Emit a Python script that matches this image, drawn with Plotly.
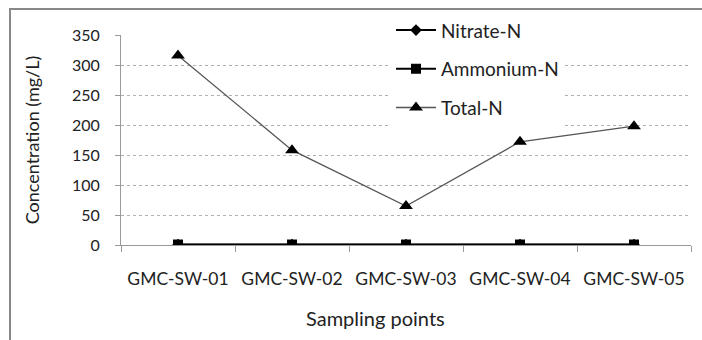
import plotly.graph_objects as go

categories = ["GMC-SW-01", "GMC-SW-02", "GMC-SW-03", "GMC-SW-04", "GMC-SW-05"]
nitrate_n = [0.5, 0.5, 0.5, 0.5, 0.5]
ammonium_n = [0.8, 0.8, 0.8, 0.8, 0.8]
total_n = [316, 158, 65, 172, 198]
y_ticks = [0, 50, 100, 150, 200, 250, 300, 350]

FONT = "Lato"
fig = go.Figure()
fig.add_trace(go.Scatter(x=categories, y=nitrate_n, name="Nitrate-N", mode="lines+markers",
                         line=dict(color="black", width=2), legendgroup="a",
                         marker=dict(symbol="diamond", size=9, color="black")))
fig.add_trace(go.Scatter(x=categories, y=ammonium_n, name="Ammonium-N", mode="lines+markers",
                         line=dict(color="black", width=2), legendgroup="b",
                         marker=dict(symbol="square", size=10, color="black")))
fig.add_trace(go.Scatter(x=categories, y=total_n, name="Total-N", mode="lines+markers",
                         line=dict(color="#555555", width=1.3), legendgroup="c",
                         marker=dict(symbol="triangle-up", size=12, color="black")))

fig.update_layout(
    width=702, height=340,
    margin=dict(l=121, r=11, t=35, b=95),
    plot_bgcolor="white", paper_bgcolor="white",
    font=dict(family=FONT, size=15.5, color="#222222"),
    showlegend=True,
    legend=dict(x=(391 - 121) / 570, y=1.113, xanchor="left", yanchor="top", bgcolor="white",
                font=dict(size=19, family=FONT, color="#222222"), tracegroupgap=11,
                itemwidth=40),
    xaxis=dict(type="category", showline=True, linecolor="#9a9a9a", linewidth=1,
               ticks="outside", ticklen=6, tickcolor="#9a9a9a", tickson="boundaries",
               showgrid=False, ticklabelstandoff=18, tickfont=dict(size=17.5),
               range=[-0.5, 4.5]),
    yaxis=dict(range=[0, 350], tickvals=y_ticks, showline=True, linecolor="#9a9a9a",
               ticks="outside", ticklen=5, tickcolor="#9a9a9a", tickfont=dict(size=16),
               showgrid=True, gridcolor="#b0b0b0", griddash="dot", gridwidth=1,
               zeroline=False, ticklabelstandoff=12,
               title=dict(text="Concentration (mg/L)", font=dict(size=18), standoff=27)),
    annotations=[dict(text="Sampling points", xref="paper", yref="paper",
                      x=(375 - 121) / 570, y=(245 - 318) / 210, xanchor="center", yanchor="middle",
                      showarrow=False, font=dict(size=20, family=FONT, color="#222222"))],
    shapes=[dict(type="rect", xref="paper", yref="paper",
                 x0=(10 - 121) / 570, x1=1.2, y0=-0.7, y1=(245 - 9) / 210,
                 line=dict(color="#888888", width=2), fillcolor="rgba(0,0,0,0)", layer="below")],
)
fig.write_html("out.html")
